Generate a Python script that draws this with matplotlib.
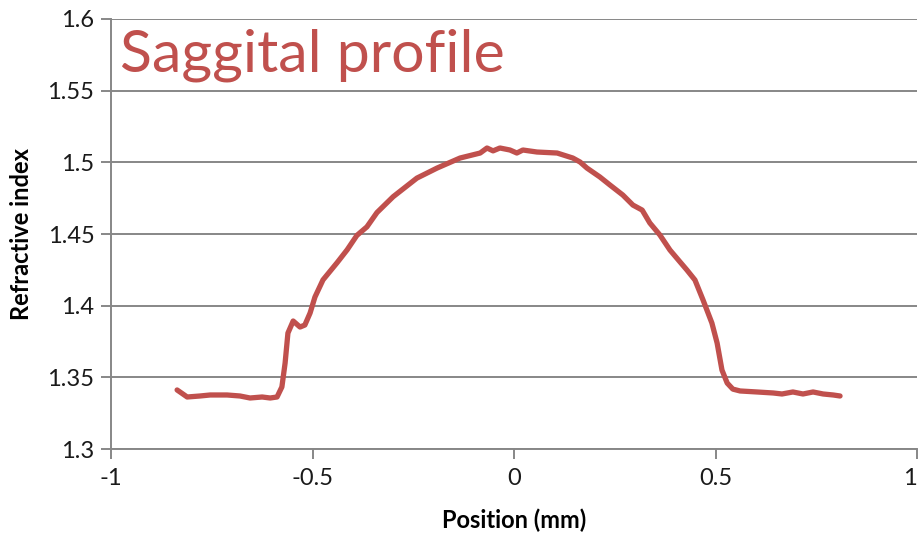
import matplotlib
matplotlib.use("Agg")
import matplotlib.pyplot as plt

plt.rcParams['font.family'] = ['Lato', 'DejaVu Sans']

# Measured refractive index across the sagittal section
position_mm = [
    -0.836, -0.811, -0.779, -0.754, -0.712, -0.680, -0.655, -0.625, -0.605, -0.588,
    -0.576, -0.568, -0.561, -0.548, -0.531, -0.519, -0.506, -0.494, -0.474, -0.439,
    -0.414, -0.390, -0.365, -0.340, -0.300, -0.241, -0.191, -0.134, -0.084, -0.067,
    -0.052, -0.035, -0.010, 0.007, 0.022, 0.057, 0.107, 0.146, 0.164, 0.181,
    0.213, 0.238, 0.270, 0.295, 0.318, 0.337, 0.362, 0.387, 0.412, 0.429,
    0.449, 0.469, 0.491, 0.504, 0.516, 0.529, 0.543, 0.561, 0.603, 0.643,
    0.665, 0.692, 0.717, 0.742, 0.767, 0.792, 0.809,
]
refractive_index = [
    1.3412, 1.3363, 1.3370, 1.3377, 1.3377, 1.3370, 1.3356, 1.3363, 1.3356, 1.3363,
    1.3433, 1.3600, 1.3809, 1.3893, 1.3851, 1.3865, 1.3949, 1.4060, 1.4180, 1.4300,
    1.4390, 1.4490, 1.4550, 1.4650, 1.4760, 1.4890, 1.4960, 1.5030, 1.5065, 1.5100,
    1.5080, 1.5100, 1.5086, 1.5065, 1.5086, 1.5072, 1.5065, 1.5030, 1.5002, 1.4960,
    1.4898, 1.4842, 1.4772, 1.4702, 1.4667, 1.4577, 1.4493, 1.4388, 1.4305, 1.4249,
    1.4179, 1.4040, 1.3879, 1.3739, 1.3551, 1.3460, 1.3418, 1.3405, 1.3398, 1.3391,
    1.3384, 1.3398, 1.3384, 1.3398, 1.3384, 1.3377, 1.3370,
]
x_ticks = [-1, -0.5, 0, 0.5, 1]
x_tick_labels = ["-1", "-0.5", "0", "0.5", "1"]
y_ticks = [1.3, 1.35, 1.4, 1.45, 1.5, 1.55, 1.6]
y_tick_labels = ["1.3", "1.35", "1.4", "1.45", "1.5", "1.55", "1.6"]

line_color = "#C0504D"
grid_color = "#878787"

fig = plt.figure(figsize=(9.22, 5.49), dpi=100)
ax = fig.add_axes([0.1204, 0.1821, 0.8742, 0.7833])

ax.set_xlim(-1, 1)
ax.set_ylim(1.3, 1.6)
ax.set_xticks(x_ticks)
ax.set_xticklabels(x_tick_labels)
ax.set_yticks(y_ticks)
ax.set_yticklabels(y_tick_labels)

ax.yaxis.grid(True, color=grid_color, linewidth=1.4)
ax.set_axisbelow(True)

for side in ("top", "right"):
    ax.spines[side].set_visible(False)
for side in ("left", "bottom"):
    ax.spines[side].set_color(grid_color)
    ax.spines[side].set_linewidth(1.4)

ax.tick_params(axis="both", direction="out", length=7, width=1.4,
               color=grid_color, labelsize=17, labelcolor="#1a1a1a")
ax.tick_params(axis="x", pad=7)
ax.tick_params(axis="y", pad=5)

# keep the last x label inside the canvas
ax.get_xticklabels()[-1].set_horizontalalignment("right")
ax.get_xticklabels()[-1].set_x(1.0)

ax.plot(position_mm, refractive_index, color=line_color, linewidth=3.8,
        solid_capstyle="round", solid_joinstyle="round")

ax.text(0.011, 0.978, "Saggital profile", transform=ax.transAxes,
        ha="left", va="top", fontsize=42.5, color=line_color)

ax.set_xlabel("Position (mm)", fontsize=17, fontweight="bold", labelpad=14)
ax.set_ylabel("Refractive index", fontsize=17, fontweight="bold", labelpad=10)

fig.savefig("out.png", dpi=100)
